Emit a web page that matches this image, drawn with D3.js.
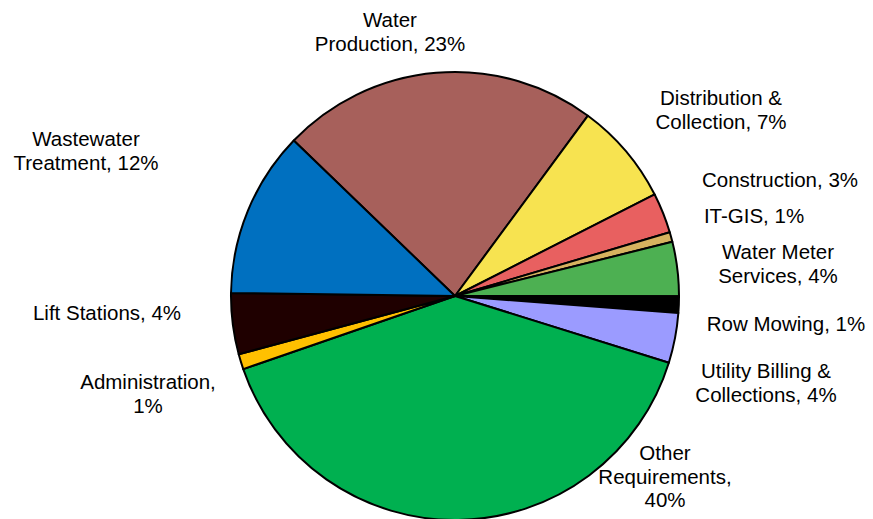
<!DOCTYPE html>
<html>
<head>
<meta charset="utf-8">
<script src="https://cdn.jsdelivr.net/npm/d3@7"></script>
<style>
  html, body { margin: 0; padding: 0; background: #fff; }
  svg { display: block; }
  text { font-family: "Liberation Sans", Arial, sans-serif; font-size: 20.5px; fill: #000; }
</style>
</head>
<body>
<svg id="chart" width="873" height="519"></svg>
<script>
// Budget share by division (percent), listed clockwise from Water Production
const categories = [
  "Water Production", "Distribution & Collection", "Construction", "IT-GIS",
  "Water Meter Services", "Row Mowing", "Utility Billing & Collections",
  "Other Requirements", "Administration", "Lift Stations", "Wastewater Treatment"
];
const shares = [22.9, 7.4, 2.9, 0.7, 3.9, 1.2, 3.6, 39.9, 1.1, 4.4, 12.0];
const colors = [
  "#a7605b", "#f7e350", "#e86060", "#d6b25f", "#4db052", "#000000",
  "#9b9bff", "#00b050", "#ffc000", "#1f0000", "#0070c0"
];
// Label text lines (name part) for each slice; percent is appended from shares
const labelLines = [
  ["Water", "Production,"],
  ["Distribution &", "Collection,"],
  ["Construction,"],
  ["IT-GIS,"],
  ["Water Meter", "Services,"],
  ["Row Mowing,"],
  ["Utility Billing &", "Collections,"],
  ["Other", "Requirements,", ""],
  ["Administration,", ""],
  ["Lift Stations,"],
  ["Wastewater", "Treatment,"]
];
// Label anchor points (centre of first baseline)
const labelPos = [
  [390, 27], [721, 105], [780, 187], [754, 223], [778, 259], [786, 331],
  [766, 378], [665, 460], [148, 389], [107, 320], [86, 146]
];

const svg = d3.select("#chart");
const cx = 455, cy = 296, r = 224;
const startDeg = -46.04;

const data = categories.map((c, i) => ({ name: c, value: shares[i], color: colors[i], i }));

const pie = d3.pie()
  .value(d => d.value)
  .sort(null)
  .startAngle(startDeg * Math.PI / 180)
  .endAngle(startDeg * Math.PI / 180 + 2 * Math.PI);

const arc = d3.arc().innerRadius(0).outerRadius(r);

const g = svg.append("g").attr("transform", `translate(${cx},${cy})`);

g.selectAll("path.slice")
  .data(pie(data))
  .join("path")
  .attr("class", "slice")
  .attr("d", arc)
  .attr("fill", d => d.data.color)
  .attr("stroke", "#000")
  .attr("stroke-width", 2)
  .attr("stroke-linejoin", "round");

// Data labels
const lineH = 23.5;
const labels = svg.append("g");
data.forEach((d, i) => {
  const lines = labelLines[i].slice();
  const pct = Math.round(d.value) + "%";
  const last = lines.length - 1;
  lines[last] = lines[last] === "" ? pct : lines[last] + " " + pct;
  const t = labels.append("text")
    .attr("x", labelPos[i][0])
    .attr("y", labelPos[i][1])
    .attr("text-anchor", "middle");
  lines.forEach((ln, k) => {
    t.append("tspan")
      .attr("x", labelPos[i][0])
      .attr("y", labelPos[i][1] + k * lineH)
      .text(ln);
  });
});
</script>
</body>
</html>
